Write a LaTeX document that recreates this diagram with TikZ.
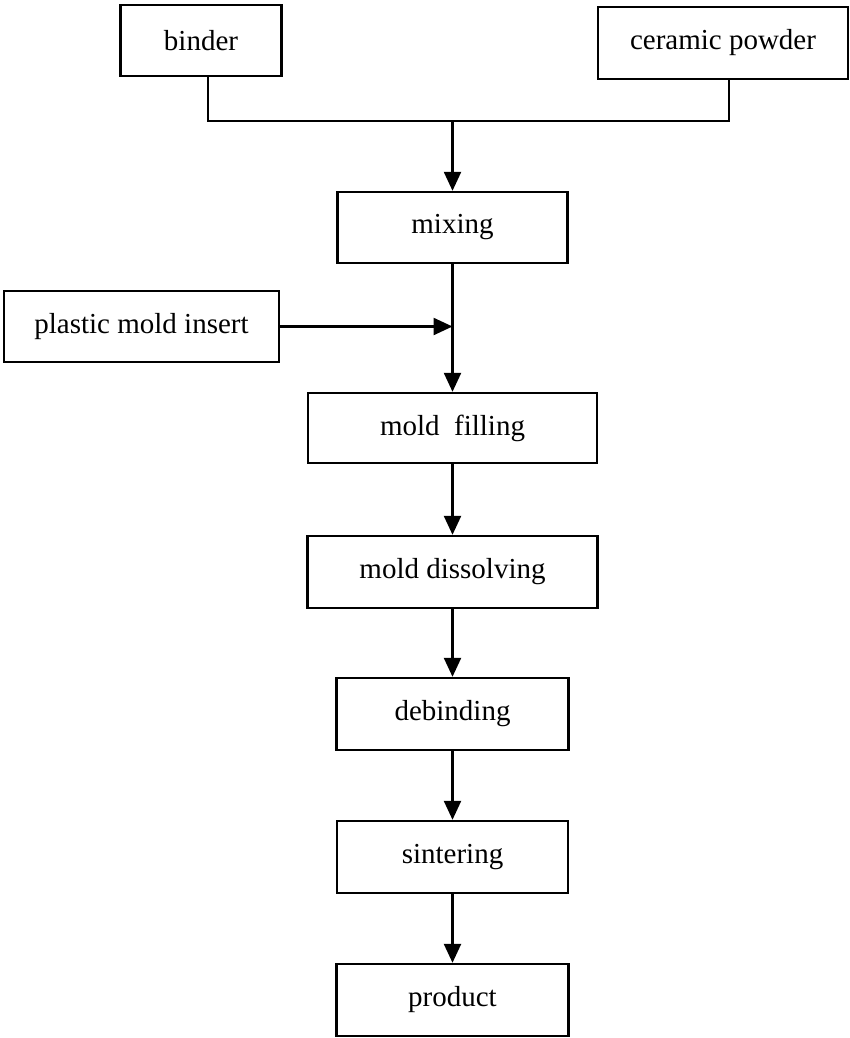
\documentclass[tikz,border=0pt]{standalone}
\usepackage{fontspec}
\setmainfont{Liberation Serif}
\usetikzlibrary{arrows.meta}

\tikzset{
  box/.style={draw, line width=2.4pt, inner sep=0pt, align=center,
    font=\fontsize{29}{34}\selectfont},
  flow/.style={line width=2.4pt, -{Triangle[length=19pt,width=17pt]}},
  link/.style={line width=2.4pt}
}

\begin{document}
\begin{tikzpicture}[x=1pt, y=-1pt]
  \useasboundingbox (0,0) rectangle (850,1038);
  % raw materials
  \node[box, minimum width=161pt, minimum height=71pt] (binder) at (201,40.5) {binder};
  \node[box, minimum width=250pt, minimum height=72pt] (powder) at (723,43) {ceramic powder};
  % process chain
  \node[box, minimum width=230pt, minimum height=71pt] (mixing) at (452.5,227.5) {mixing};
  \node[box, minimum width=275pt, minimum height=71pt] (insert) at (141.5,326.5) {plastic mold insert};
  \node[box, minimum width=289pt, minimum height=70pt] (filling) at (452.5,428) {mold~ filling};
  \node[box, minimum width=290pt, minimum height=72pt] (dissolving) at (452.5,572) {mold dissolving};
  \node[box, minimum width=232pt, minimum height=72pt] (debinding) at (452.5,714) {debinding};
  \node[box, minimum width=231pt, minimum height=72pt] (sintering) at (452.5,857) {sintering};
  \node[box, minimum width=232pt, minimum height=72pt] (product) at (452.5,1000) {product};

  \coordinate (bdrop) at ([xshift=7pt]binder.south);
  \coordinate (pdrop) at ([xshift=6pt]powder.south);
  \coordinate (join) at (mixing.north |- 0,121);
  \coordinate (merge) at (mixing.south |- insert.east);

  \draw[link] (bdrop) |- (join) -| (pdrop);
  \draw[flow] (join) -- (mixing.north);
  \draw[flow] (insert.east) -- (merge);
  \draw[flow] (mixing.south) -- (filling.north);
  \draw[flow] (filling) -- (dissolving);
  \draw[flow] (dissolving) -- (debinding);
  \draw[flow] (debinding) -- (sintering);
  \draw[flow] (sintering) -- (product);
\end{tikzpicture}
\end{document}
